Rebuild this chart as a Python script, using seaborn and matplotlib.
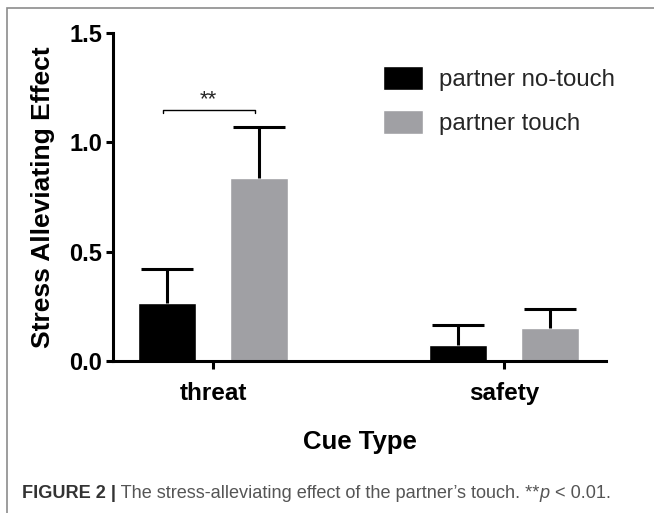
import numpy as np
import pandas as pd
import seaborn as sns
import matplotlib.pyplot as plt
from matplotlib.patches import Rectangle

sns.set_theme(style="ticks")
plt.rcParams['font.family'] = ['Liberation Sans', 'DejaVu Sans']

# data (mean and SEM, upper bar only)
cue_types = ["threat", "safety"]
conditions = ["partner no-touch", "partner touch"]
no_touch_mean = [0.265, 0.075]
no_touch_sem = [0.155, 0.09]
touch_mean = [0.835, 0.152]
touch_sem = [0.235, 0.086]
bar_colors = ["black", "#a0a0a4"]
sig_label = "**"
sig_y = 1.148

df = pd.DataFrame({
    "cue": cue_types * 2,
    "condition": [conditions[0]] * 2 + [conditions[1]] * 2,
    "effect": no_touch_mean + touch_mean,
})
means = [no_touch_mean, touch_mean]
sems = [no_touch_sem, touch_sem]

fig = plt.figure(figsize=(6.54, 5.13), dpi=100)
ax = fig.add_axes([113/654, 1 - 361/513, (606 - 113)/654, (361 - 33)/513])

sns.barplot(data=df, x="cue", y="effect", hue="condition", order=cue_types,
            hue_order=conditions, palette=bar_colors, saturation=1,
            width=0.632, gap=0.367, errorbar=None, ax=ax)

# upward-only error bars on each bar
centers = []
for cont, m, s in zip(ax.containers, means, sems):
    xs = [p.get_x() + p.get_width() / 2 for p in cont.patches]
    centers.append(xs)
    _, caps, _ = ax.errorbar(xs, m, yerr=[np.zeros(len(s)), s], fmt="none",
                             ecolor="black", elinewidth=2.2, capsize=18.5,
                             capthick=2.2, zorder=3)
    for c in caps:
        if np.allclose(c.get_ydata(), m):
            c.set_visible(False)

# significance bracket for threat
x0, x1 = centers[0][0] - 0.015, centers[1][0] - 0.015
ax.plot([x0, x0, x1, x1], [sig_y - 0.015, sig_y, sig_y, sig_y - 0.015],
        color="black", lw=1.0, clip_on=False)
ax.text((x0 + x1) / 2, sig_y, sig_label, ha="center", va="bottom",
        fontsize=16)

ax.set_ylim(0, 1.5)
ax.set_xlim(-0.344, 1.351)
ax.set_yticks([0, 0.5, 1.0, 1.5])
ax.set_yticklabels(["0.0", "0.5", "1.0", "1.5"])
for sp in ["top", "right"]:
    ax.spines[sp].set_visible(False)
for sp in ["left", "bottom"]:
    ax.spines[sp].set_linewidth(2.2)
    ax.spines[sp].set_color("black")
ax.tick_params(axis="y", width=2.2, length=5, pad=3, labelsize=17, colors="black")
ax.tick_params(axis="x", width=2.2, length=6, pad=9, labelsize=17.5, colors="black")
for lab in ax.get_xticklabels() + ax.get_yticklabels():
    lab.set_fontweight("bold")

ax.set_ylabel("Stress Alleviating Effect", fontsize=19, fontweight="bold",
              labelpad=10, color="black")
ax.set_xlabel("Cue Type", fontsize=18.5, fontweight="bold", labelpad=18,
              color="black")

handles, labels = ax.get_legend_handles_labels()
ax.legend(handles, labels, loc="upper left",
          bbox_to_anchor=(383/654, 1 - 66/513), bbox_transform=fig.transFigure,
          frameon=False, fontsize=17.3, handlelength=1.65, handleheight=1.15,
          handletextpad=0.7, labelspacing=0.8, borderpad=0, borderaxespad=0)

# frame around the figure panel (open to the right and bottom)
fig.add_artist(Rectangle((7/654, -0.05), 1.1, 1.05 - 8/513,
                         transform=fig.transFigure, fill=False,
                         edgecolor="#8c8c8c", lw=1.2))

# caption
cap_size = 13.1
t = fig.text(22/654, 1 - 502/513, "FIGURE 2 |", fontsize=cap_size,
             fontweight="bold", color="#333333", va="bottom", ha="left")
parts = [(" The stress-alleviating effect of the partner\u2019s touch. **", "normal"),
         ("p", "italic"), (" < 0.01.", "normal")]
prev = t
for txt, style in parts:
    prev = ax.annotate(txt, xy=(1, 0), xycoords=prev, ha="left", va="bottom",
                       fontsize=cap_size, fontstyle=style, color="#555555",
                       annotation_clip=False)

fig.savefig("out.png", dpi=100)
